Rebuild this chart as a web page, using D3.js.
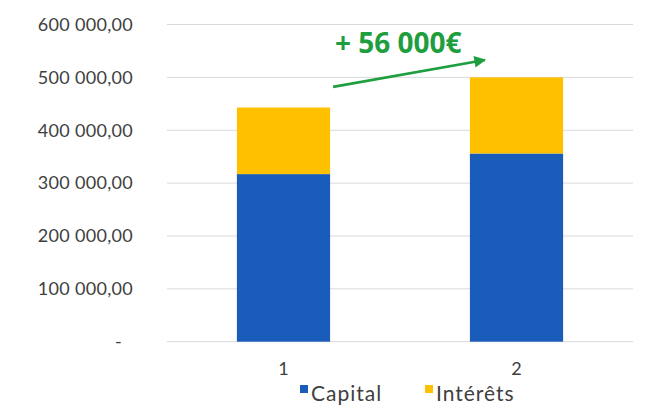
<!DOCTYPE html>
<html>
<head>
<meta charset="utf-8">
<script src="https://cdn.jsdelivr.net/npm/d3@7"></script>
<style>
  body { margin: 0; background: #fff; }
  svg { display: block; }
</style>
</head>
<body>
<svg id="chart" width="668" height="405"></svg>
<script>
// data
const categories = ["1", "2"];
const capital = [317000, 356000];
const interets = [126000, 144000];
const seriesNames = ["Capital", "Intérêts"];
const seriesColors = ["#1a5cb9", "#ffc000"];
const yTicks = [0, 100000, 200000, 300000, 400000, 500000, 600000];
const annotation = "+ 56 000€";

const svg = d3.select("#chart"),
    width = +svg.attr("width"),
    height = +svg.attr("height");

const margin = {top: 24.5, right: 35, bottom: 63.3, left: 167};
const plotW = width - margin.left - margin.right,
    plotH = height - margin.top - margin.bottom;

let rows = categories.map(function (c, i) {
    return {cat: c, Capital: capital[i], "Intérêts": interets[i]};
});

let stack = d3.stack().keys(seriesNames)(rows);

let x = d3.scaleBand()
    .domain(categories)
    .range([margin.left, margin.left + plotW])
    .paddingInner(0.6)
    .paddingOuter(0.3);

let y = d3.scaleLinear()
    .domain([0, 600000])
    .range([margin.top + plotH, margin.top]);

const color = d3.scaleOrdinal().domain(seriesNames).range(seriesColors);

// gridlines
svg.append("g")
    .selectAll("line")
    .data(yTicks)
    .enter()
    .append("line")
    .attr("x1", margin.left)
    .attr("x2", margin.left + plotW)
    .attr("y1", d => y(d))
    .attr("y2", d => y(d))
    .style("stroke", "#d9d9d9")
    .style("stroke-width", 1);

// y labels
const fmt = function (d) {
    if (d === 0) return "-";
    let s = d3.format(",.2f")(d);
    return s.replace(/,/g, " ").replace(".", ",");
};
svg.append("g")
    .selectAll("text")
    .data(yTicks)
    .enter()
    .append("text")
    .attr("x", d => d === 0 ? 122 : 133)
    .attr("y", d => y(d))
    .attr("dy", "0.35em")
    .attr("text-anchor", "end")
    .style("font-family", "Lato, 'Open Sans', sans-serif")
    .style("font-size", "18px")
    .style("letter-spacing", "0.3px")
    .style("fill", "#404040")
    .text(fmt);

// bars
svg.append("g")
    .selectAll("g")
    .data(stack)
    .enter()
    .append("g")
    .attr("fill", d => color(d.key))
    .selectAll("rect")
    .data(d => d)
    .enter()
    .append("rect")
    .attr("x", d => x(d.data.cat))
    .attr("width", x.bandwidth())
    .attr("y", d => y(d[1]))
    .attr("height", d => y(d[0]) - y(d[1]));

// x labels
svg.append("g")
    .selectAll("text")
    .data(categories)
    .enter()
    .append("text")
    .attr("x", d => x(d) + x.bandwidth() / 2)
    .attr("y", 375)
    .attr("text-anchor", "middle")
    .style("font-family", "Lato, 'Open Sans', sans-serif")
    .style("font-size", "18px")
    .style("fill", "#404040")
    .text(d => d);

// legend
const legendX = [300, 425];
let legend = svg.append("g")
    .selectAll("g")
    .data(seriesNames)
    .enter()
    .append("g")
    .attr("transform", (d, i) => "translate(" + legendX[i] + ",0)");
legend.append("rect")
    .attr("x", 0)
    .attr("y", 385)
    .attr("width", 8)
    .attr("height", 8)
    .attr("fill", d => color(d));
legend.append("text")
    .attr("x", 11)
    .attr("y", 401)
    .style("font-family", "Lato, 'Open Sans', sans-serif")
    .style("font-size", "21px")
    .style("letter-spacing", "1px")
    .style("fill", "#404040")
    .text(d => d);

// annotation arrow
const green = "#1f9e3f";
svg.append("defs").append("marker")
    .attr("id", "arrow")
    .attr("viewBox", "0 0 10 10")
    .attr("refX", 9)
    .attr("refY", 5)
    .attr("markerWidth", 5)
    .attr("markerHeight", 4.5)
    .attr("orient", "auto")
    .append("path")
    .attr("d", "M0,0 L10,5 L0,10 Z")
    .attr("fill", green);

let x0 = x(categories[0]) + x.bandwidth() + 3,
    y0 = y(482000),
    x1 = x(categories[1]) + 15,
    y1 = y(533000);
svg.append("line")
    .attr("x1", x0)
    .attr("y1", y0)
    .attr("x2", x1)
    .attr("y2", y1)
    .style("stroke", green)
    .style("stroke-width", 2.6)
    .attr("marker-end", "url(#arrow)");

svg.append("text")
    .attr("x", 335)
    .attr("y", 53)
    .style("font-family", "'Open Sans', sans-serif")
    .style("font-weight", "bold")
    .style("font-size", "28px")
    .style("fill", green)
    .text(annotation);
</script>
</body>
</html>
